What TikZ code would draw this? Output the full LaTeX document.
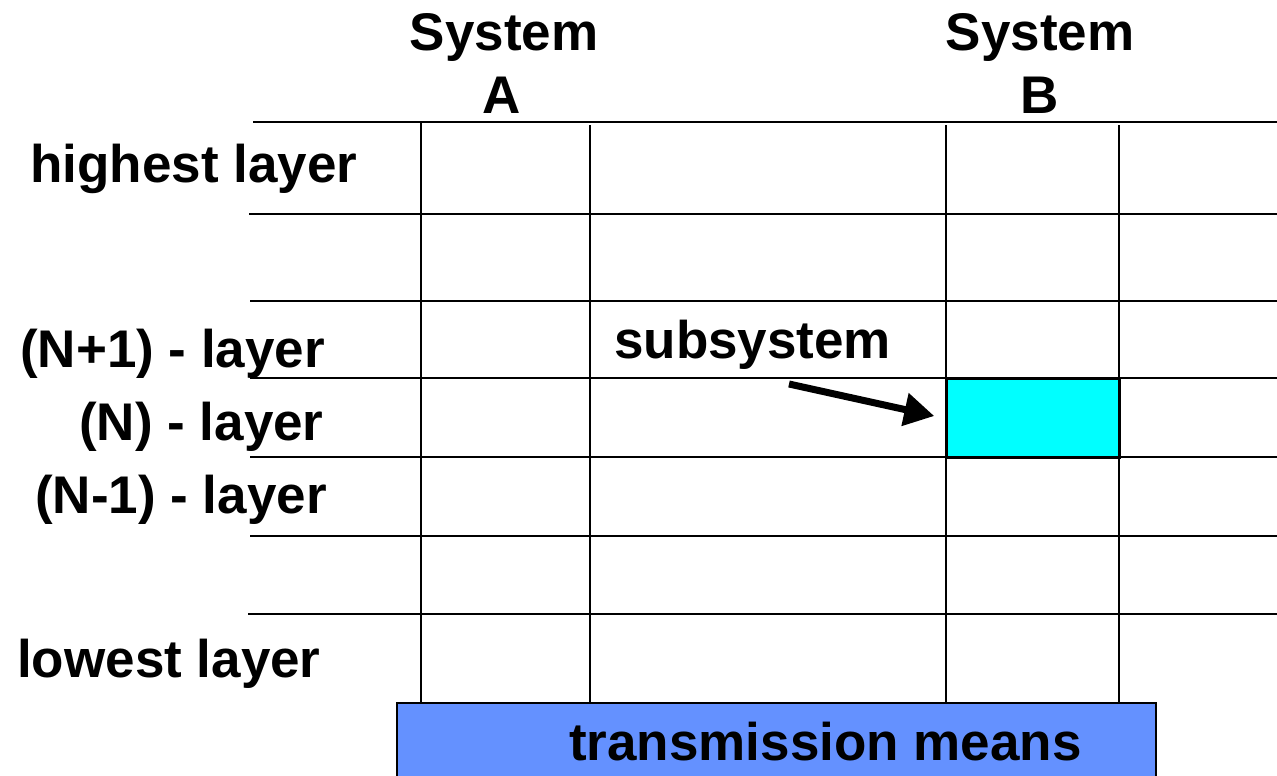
\documentclass[tikz,border=0pt]{standalone}
\usepackage{fontspec}
\setmainfont{Liberation Sans}
\usetikzlibrary{arrows.meta}
\definecolor{cyanfill}{RGB}{0,255,255}
\definecolor{tmblue}{RGB}{100,145,255}
\tikzset{
  lbl/.style={font=\fontsize{53}{62}\selectfont\bfseries, inner sep=0pt, anchor=base west},
  hline/.style={line width=2.6pt, black},
  vline/.style={line width=2.2pt, black},
  boxcell/.style={draw=black, line width=2.2pt, inner sep=0pt},
  pointer/.style={line width=7pt, -{Triangle[length=30pt,width=32pt]}, shorten >=12pt}
}
\begin{document}
\begin{tikzpicture}[x=1pt,y=-1pt]
\useasboundingbox (0,0) rectangle (1277,776);
\clip (0,0) rectangle (1277,776);
% cyan subsystem cell
\node[boxcell, fill=cyanfill, minimum width=173pt, minimum height=79pt, anchor=north west] (cell) at (946,378) {};
% horizontal layer lines
\draw[hline] (253,122) -- (1277,122);
\draw[hline] (249,214) -- (1277,214);
\draw[hline] (250,301) -- (1277,301);
\draw[hline] (250,378) -- (1277,378);
\draw[hline] (250,457) -- (1277,457);
\draw[hline] (250,536) -- (1277,536);
\draw[hline] (248,614) -- (1277,614);
% vertical system lines
\draw[vline] (421,122) -- (421,702);
\draw[vline] (590,125) -- (590,702);
\draw[vline] (946,125) -- (946,702);
\draw[vline] (1119,125) -- (1119,702);
% transmission means
\node[boxcell, fill=tmblue, minimum width=759pt, minimum height=90pt, anchor=north west] (tm) at (396,702) {};
\node[lbl] (tmtext) at (569,760) {transmission means};
% system headings
\node[lbl, anchor=base] (sysA1) at (504,51) {System};
\node[lbl, anchor=base] (sysA2) at (502,113) {A};
\node[lbl, anchor=base] (sysB1) at (1040,51) {System};
\node[lbl, anchor=base] (sysB2) at (1040,113) {B};
% layer labels
\node[lbl] (hl) at (30,182) {highest layer};
\node[lbl] (np1) at (20,367) {(N+1) - layer};
\node[lbl] (n) at (79,440) {(N) - layer};
\node[lbl] (nm1) at (35,513) {(N-1) - layer};
\node[lbl] (ll) at (17,677) {lowest layer};
% subsystem pointer
\node[lbl] (subsys) at (614,358) {subsystem};
\coordinate (ptail) at (789,384);
\draw[pointer] (ptail) -- (cell.west);
\end{tikzpicture}
\end{document}
